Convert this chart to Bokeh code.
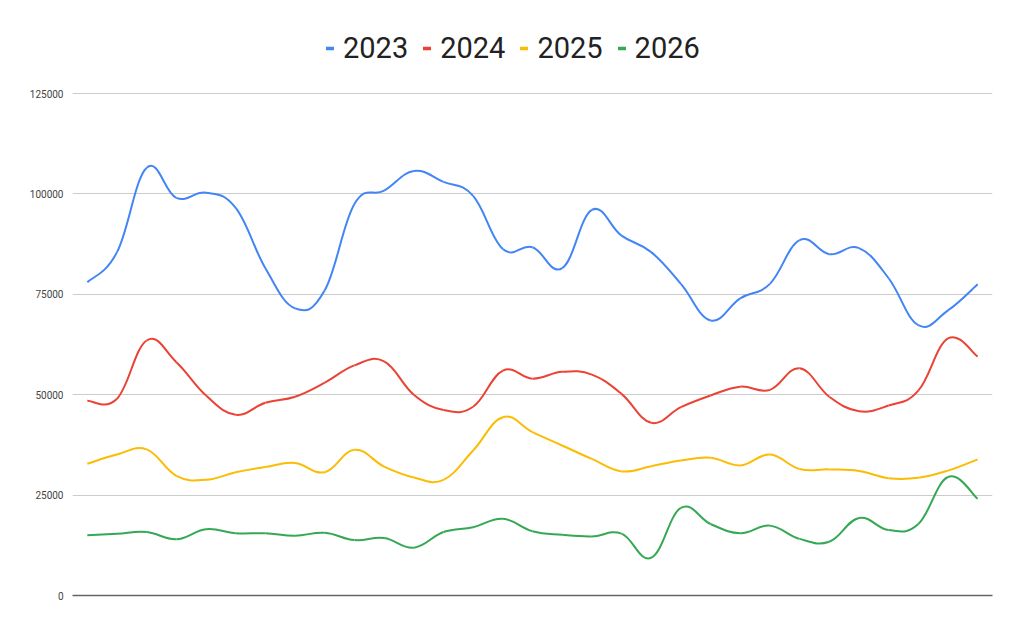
from bokeh.plotting import figure
from bokeh.models import Range1d, FixedTicker, NumeralTickFormatter, Legend, LegendItem, ColumnDataSource
from bokeh.embed import file_html
from bokeh.resources import INLINE

series_names = ["2023", "2024", "2025", "2026"]
colors = ["#4285F4", "#EA4335", "#FBBC04", "#34A853"]

v2023 = [78000, 85500, 106500, 99000, 100300, 96500, 81500, 71500, 76000, 97500,
         100800, 105700, 103000, 99500, 86300, 86700, 81500, 96000, 89600, 85500,
         77600, 68500, 74000, 77600, 88500, 85000, 86500, 79000, 67300, 71000, 77500]
v2024 = [48500, 49000, 63500, 58100, 49800, 45000, 48000, 49500, 53000, 57300,
         58300, 50000, 46200, 47000, 56000, 54000, 55700, 55000, 50200, 43000,
         46900, 49800, 52000, 51200, 56600, 49500, 45900, 47300, 51000, 64000, 59500]
v2025 = [32800, 35100, 36400, 29800, 28800, 30700, 32000, 33000, 30700, 36300,
         32100, 29400, 28800, 36100, 44400, 40700, 37350, 34000, 30900, 32200,
         33600, 34300, 32400, 35100, 31500, 31400, 31000, 29200, 29300, 31100, 33900]
v2026 = [15000, 15400, 15800, 14000, 16500, 15500, 15500, 14900, 15600, 13800,
         14300, 11900, 15800, 17000, 19100, 16000, 15100, 14700, 15400, 9400,
         21800, 17800, 15500, 17400, 14100, 13400, 19300, 16300, 17800, 29500, 24100]

y_ticks = [0, 25000, 50000, 75000, 100000, 125000]
y_max = 125000

all_series = [v2023, v2024, v2025, v2026]


def bezier_source(ys, t=0.2):
    n = len(ys)
    xs = list(range(n))
    ex = [xs[0]] + xs + [xs[-1]]
    ey = [ys[0]] + ys + [ys[-1]]
    d = dict(x0=[], y0=[], x1=[], y1=[], cx0=[], cy0=[], cx1=[], cy1=[])
    for i in range(n - 1):
        x0, x1, x2, x3 = ex[i], ex[i + 1], ex[i + 2], ex[i + 3]
        y0, y1, y2, y3 = ey[i], ey[i + 1], ey[i + 2], ey[i + 3]
        d["x0"].append(x1); d["y0"].append(y1)
        d["x1"].append(x2); d["y1"].append(y2)
        d["cx0"].append(x1 + (x2 - x0) * t); d["cy0"].append(y1 + (y2 - y0) * t)
        d["cx1"].append(x2 - (x3 - x1) * t); d["cy1"].append(y2 - (y3 - y1) * t)
    return ColumnDataSource(d)


# plot area: 502px for 0..125000, extended up by 93px to hold the legend
FRAME_W, PLOT_H, TOP_PAD = 920, 502, 93
FRAME_H = PLOT_H + TOP_PAD
y_top = y_max * FRAME_H / PLOT_H

p = figure(width=1008, height=618, output_backend="svg", toolbar_location=None,
           frame_width=FRAME_W, frame_height=FRAME_H,
           x_range=Range1d(-0.5, len(v2023) - 0.5), y_range=Range1d(0, y_top),
           min_border_left=72, min_border_right=16, min_border_top=0, min_border_bottom=23)
p.outline_line_color = None
p.background_fill_color = "white"
p.border_fill_color = "white"

p.xgrid.visible = False
p.ygrid.grid_line_color = "#cccccc"
p.ygrid.grid_line_width = 1
p.ygrid.ticker = FixedTicker(ticks=y_ticks)

p.yaxis.ticker = FixedTicker(ticks=y_ticks)
p.yaxis.formatter = NumeralTickFormatter(format="0")
p.yaxis.axis_line_color = None
p.yaxis.major_tick_line_color = None
p.yaxis.minor_tick_line_color = None
p.yaxis.major_label_text_font = "Roboto"
p.yaxis.major_label_text_font_size = "10px"
p.yaxis.major_label_text_color = "#444444"
p.yaxis.major_label_standoff = 3

p.xaxis.ticker = FixedTicker(ticks=[])
p.xaxis.major_tick_line_color = None
p.xaxis.minor_tick_line_color = None
p.xaxis.axis_line_color = "#666666"
p.xaxis.axis_line_width = 1.5

items = []
for name, col, vals in zip(series_names, colors, all_series):
    src = bezier_source(vals)
    p.bezier(x0="x0", y0="y0", x1="x1", y1="y1", cx0="cx0", cy0="cy0", cx1="cx1", cy1="cy1",
             source=src, line_color=col, line_width=2)
    dummy = p.line(x=[0], y=[float("nan")], line_color=col, line_width=3.5, line_cap="round")
    items.append(LegendItem(label=name, renderers=[dummy]))

legend = Legend(items=items, orientation="horizontal", location=(254, FRAME_H - 65),
                label_text_font="Roboto", label_text_font_size="29px", label_text_color="#222222",
                glyph_width=8, glyph_height=20, label_standoff=9, spacing=15,
                border_line_color=None, background_fill_alpha=0, padding=4, margin=0)
p.add_layout(legend, "center")

open("out.html", "w").write(file_html(p, INLINE))
